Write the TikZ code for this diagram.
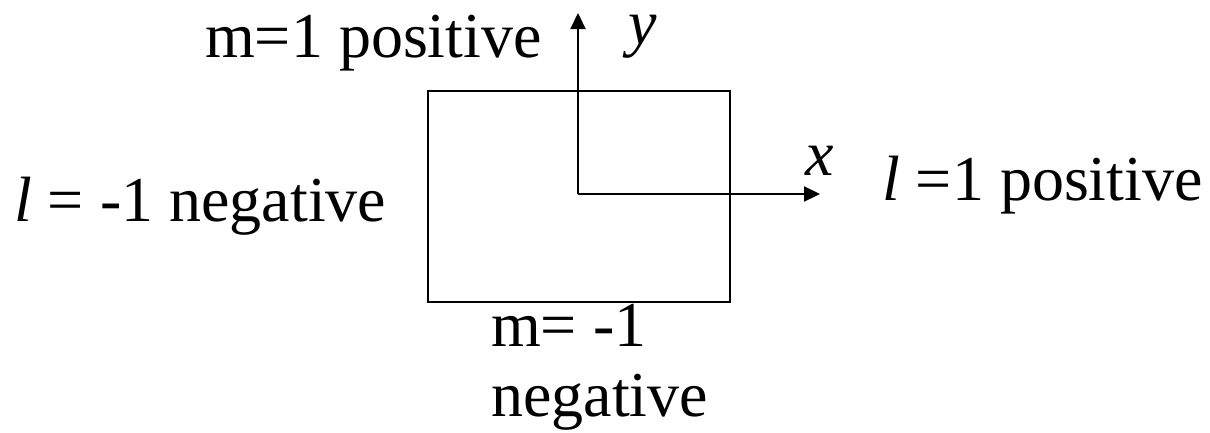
\documentclass[tikz,border=0pt]{standalone}
\usepackage{fontspec}
\setmainfont{Liberation Serif}
\usetikzlibrary{arrows.meta}
\begin{document}
\begin{tikzpicture}[x=1pt,y=-1pt,
  lbl/.style={inner sep=0pt,anchor=base west,font=\fontsize{64}{72}\selectfont},
  axis/.style={line width=2.2pt,-{Triangle[length=16pt,width=15pt]}}]
\useasboundingbox (0,0) rectangle (1210,432);
\node[draw,line width=1.6pt,minimum width=302pt,minimum height=211pt,inner sep=0pt,anchor=north west] (box) at (427,90) {};
\coordinate (o) at (578,194);
\coordinate (ytip) at (578,13);
\coordinate (xtip) at (820,194);
\draw[axis] (o) -- (ytip);
\draw[axis] (o) -- (xtip);
\node[lbl] (mpos) at (205,57) {m=1 positive};
\node[lbl,text height=30pt,text depth=14pt] (ylab) at (628,44) {\textit{y}};
\node[lbl] (xlab) at (805,175) {\textit{x}};
\node[lbl] (lpos) at (882,200) {\textit{l} =1 positive};
\node[lbl] (lneg) at (14,221) {\textit{l} = -1 negative};
\node[lbl] (mneg) at (491,346) {m= -1};
\node[lbl] (neg) at (491,416) {negative};
\end{tikzpicture}
\end{document}
